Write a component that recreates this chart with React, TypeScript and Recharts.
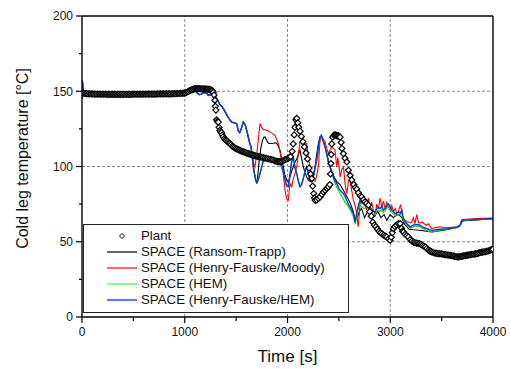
import { ComposedChart, Legend, Line, ReferenceLine, Scatter, XAxis, YAxis } from "recharts";

type Pt = [number, number];

// measured plant data (diamonds), time [s] / temperature [°C]
const plant: Pt[] = [
  [0, 148.8], [15, 148.7], [30, 148.5], [45, 148.4], [60, 148.3], [75, 148.3], [90, 148.2], [105, 148.2],
  [120, 148.1], [135, 148.1], [150, 148.1], [165, 148.0], [180, 148.0], [195, 148.0], [210, 148.0], [225, 148.0],
  [240, 147.9], [255, 147.9], [270, 147.9], [285, 147.9], [300, 147.9], [315, 147.9], [330, 147.9], [345, 147.9],
  [360, 147.9], [375, 147.9], [390, 147.9], [405, 147.9], [420, 147.9], [435, 147.9], [450, 147.9], [465, 147.9],
  [480, 147.9], [495, 148.0], [510, 148.0], [525, 148.0], [540, 148.0], [555, 148.0], [570, 148.0], [585, 148.0],
  [600, 148.0], [615, 148.0], [630, 148.0], [645, 148.1], [660, 148.1], [675, 148.1], [690, 148.1], [705, 148.1],
  [720, 148.1], [735, 148.2], [750, 148.2], [765, 148.2], [780, 148.2], [795, 148.2], [810, 148.3], [825, 148.3],
  [840, 148.3], [855, 148.3], [870, 148.3], [885, 148.4], [900, 148.4], [915, 148.4], [930, 148.5], [945, 148.5],
  [960, 148.6], [975, 148.6], [990, 148.7], [1000, 148.8], [1012, 149.1], [1024, 149.5], [1036, 149.9],
  [1048, 150.4], [1060, 150.8], [1072, 151.1], [1084, 151.4], [1096, 151.6], [1108, 151.7], [1120, 151.7],
  [1132, 151.7], [1144, 151.7], [1156, 151.6], [1168, 151.6], [1180, 151.6], [1192, 151.5], [1204, 151.5],
  [1216, 151.4], [1228, 151.3], [1240, 151.2], [1252, 151.0], [1262, 150.7], [1270, 150.2], [1277, 149.3],
  [1285, 147.5], [1293, 144], [1298, 140], [1303, 137.5], [1310, 131], [1318, 130], [1326, 129.5], [1334, 126],
  [1342, 124], [1350, 123], [1358, 122.5], [1366, 121], [1374, 119.7], [1385, 118.5], [1396, 117.8],
  [1407, 117.2], [1418, 116.5], [1429, 115.8], [1440, 115.3], [1451, 114.5], [1462, 113.6], [1472, 113],
  [1484, 112.5], [1496, 112], [1508, 111.7], [1520, 111.2], [1532, 110.9], [1544, 110.5], [1556, 110.1],
  [1568, 109.8], [1580, 109.5], [1592, 109.2], [1604, 108.9], [1618, 108.6], [1630, 108.3], [1642, 108],
  [1654, 107.7], [1666, 107.5], [1678, 107.2], [1690, 107], [1702, 106.8], [1715, 106.6], [1728, 106.4],
  [1740, 106.3], [1752, 106], [1765, 105.8], [1780, 105.5], [1797, 105.3], [1812, 105], [1830, 104.8],
  [1846, 104.5], [1862, 104.2], [1876, 103.8], [1890, 103.5], [1900, 103.3], [1911, 103.2], [1923, 103.2],
  [1935, 103.3], [1948, 103.6], [1960, 104], [1972, 104.4], [1985, 104.8], [1997, 105.1], [2010, 105.5],
  [2020, 106], [2030, 106.5], [2045, 110], [2055, 115], [2065, 121], [2073, 126], [2082, 131], [2090, 132],
  [2100, 129], [2110, 126], [2122, 123.5], [2135, 120], [2150, 116.5], [2165, 113], [2180, 109], [2195, 105],
  [2210, 99], [2225, 95], [2236, 92], [2245, 87], [2255, 82], [2262, 79], [2270, 77.5], [2285, 77.8],
  [2300, 78.8], [2317, 79.8], [2335, 81.5], [2350, 83], [2366, 84.2], [2382, 85.4], [2398, 86.5], [2412, 88],
  [2418, 95], [2422, 102], [2426, 108], [2431, 115], [2440, 119.5], [2452, 120.8], [2463, 121], [2472, 120.8],
  [2480, 120.5], [2488, 120.4], [2496, 120.3], [2504, 120], [2512, 119.5], [2522, 116], [2530, 112],
  [2544, 108.6], [2560, 105.5], [2577, 103], [2593, 97.5], [2610, 94], [2626, 91], [2645, 88], [2660, 86],
  [2674, 85], [2690, 82.5], [2708, 80.5], [2723, 79.8], [2740, 78], [2755, 76.5], [2770, 75.5], [2788, 74.3],
  [2800, 70], [2815, 67], [2830, 63], [2845, 61], [2860, 60], [2875, 58.5], [2890, 57], [2905, 56], [2920, 55.2],
  [2935, 54.4], [2950, 53.8], [2966, 53.2], [2982, 52], [2999, 51], [3010, 53], [3020, 56], [3031, 58.7],
  [3045, 60], [3060, 61], [3080, 62], [3097, 62], [3110, 59], [3120, 57], [3129, 56.5], [3145, 55], [3160, 54],
  [3177, 53.2], [3195, 51.5], [3210, 50.5], [3226, 49.8], [3240, 49.4], [3255, 49.1], [3270, 48.9],
  [3285, 48.8], [3300, 48.3], [3313, 47.6], [3325, 47], [3340, 46.5], [3355, 45.5], [3370, 44.5], [3385, 44],
  [3395, 43.6], [3405, 43.2], [3420, 42.8], [3435, 42.5], [3450, 42.3], [3465, 42.1], [3480, 42.1], [3495, 42],
  [3510, 41.8], [3525, 41.5], [3540, 41.4], [3555, 41.2], [3570, 41.1], [3584, 41], [3598, 40.7], [3612, 40.5],
  [3626, 40.3], [3640, 40.1], [3652, 39.9], [3665, 40], [3678, 40.1], [3690, 40.2], [3702, 40.4], [3715, 40.6],
  [3728, 40.8], [3740, 40.9], [3752, 41.1], [3765, 41.2], [3778, 41.4], [3792, 41.6], [3805, 41.7],
  [3818, 41.8], [3832, 42], [3845, 42.1], [3858, 42.4], [3871, 42.8], [3885, 43], [3898, 43.1], [3912, 43.3],
  [3925, 43.4], [3940, 43.6], [3953, 43.9], [3966, 44.2], [3978, 44.5], [3990, 44.8], [4000, 45],
];

// all four SPACE runs overlap up to ~1650 s
const spaceStart: Pt[] = [
  [0, 145], [4, 157], [10, 152], [20, 149], [40, 147.8], [80, 147.3], [200, 147.2], [400, 147.2], [600, 147.3],
  [800, 147.4], [950, 147.6], [1000, 148], [1030, 148.8], [1060, 149.8], [1085, 150.8], [1100, 150.6],
  [1120, 149], [1140, 147.8], [1160, 148], [1180, 149], [1200, 149.2], [1215, 148.5], [1230, 147.3],
  [1250, 147.8], [1270, 149.5], [1285, 149.3], [1300, 146.5], [1320, 144], [1340, 141.5], [1360, 140],
  [1380, 138], [1400, 135.5], [1420, 133], [1440, 131], [1456, 129.5], [1480, 129], [1505, 128.5], [1520, 124],
  [1535, 122.5], [1550, 125], [1570, 129.5], [1590, 127.5], [1610, 122], [1630, 116], [1645, 113],
];

const ransomTrapp: Pt[] = [
  [1660, 106], [1675, 97], [1690, 91], [1700, 88.7], [1712, 95], [1725, 104], [1740, 112], [1755, 117],
  [1770, 119.5], [1781, 119.7], [1800, 117], [1815, 115.5], [1829, 115.3], [1860, 115.5], [1880, 115.8],
  [1895, 115.3], [1911, 113.5], [1927, 110.8], [1943, 105], [1959, 99.7], [1976, 94], [1992, 91], [2008, 89.5],
  [2024, 93], [2041, 97], [2057, 100], [2073, 103], [2090, 105], [2106, 108], [2122, 110.8], [2138, 105],
  [2154, 100], [2170, 96], [2187, 93], [2203, 91], [2219, 90], [2236, 89.8], [2251, 93], [2268, 99.7],
  [2284, 108], [2300, 115], [2317, 119.7], [2333, 120], [2350, 117], [2366, 113], [2382, 108], [2398, 104],
  [2414, 100], [2430, 97], [2447, 94], [2463, 92], [2480, 90], [2496, 89], [2512, 88], [2528, 86], [2545, 84],
  [2561, 82], [2577, 80], [2593, 78], [2609, 76], [2625, 73], [2641, 70], [2650, 67], [2660, 64.3], [2675, 66],
  [2690, 68], [2706, 71], [2720, 72], [2735, 69], [2750, 66], [2765, 68], [2780, 70], [2795, 69], [2810, 68],
  [2830, 67.5], [2850, 67], [2865, 69], [2880, 70], [2895, 68], [2910, 66], [2925, 67], [2940, 68], [2955, 66],
  [2966, 64.3], [2982, 66], [2999, 68], [3015, 67], [3031, 66], [3048, 67], [3064, 68], [3080, 68], [3097, 67],
  [3113, 66], [3130, 63], [3146, 61], [3162, 60], [3180, 58.5], [3200, 58.2], [3226, 58], [3260, 57.8],
  [3300, 57.5], [3350, 57], [3405, 56.5], [3454, 57], [3500, 57.5], [3551, 58], [3600, 58.8], [3649, 59.5],
  [3670, 60], [3690, 62], [3700, 63.6], [3714, 64], [3800, 64.3], [3900, 64.8], [4000, 65.1],
];

const henryMoody: Pt[] = [
  [1660, 107], [1675, 101], [1683, 99.7], [1700, 108], [1716, 117.5], [1732, 128.6], [1748, 126],
  [1765, 124.5], [1781, 124.3], [1800, 124], [1829, 123], [1850, 122], [1878, 120.8], [1895, 118],
  [1911, 115.3], [1927, 110], [1943, 104.2], [1959, 95], [1976, 84.2], [1992, 78.5], [2008, 77.6], [2024, 88.7],
  [2041, 86.5], [2057, 92], [2073, 95.3], [2090, 99.7], [2106, 109], [2122, 116.4], [2138, 115], [2154, 114.2],
  [2170, 115], [2187, 115.3], [2203, 106], [2219, 99.7], [2236, 94], [2251, 91], [2268, 90], [2284, 94],
  [2300, 99.7], [2310, 110], [2317, 117.5], [2333, 119.7], [2350, 118], [2366, 116.4], [2382, 112],
  [2398, 108.6], [2414, 111], [2431, 113], [2447, 112], [2463, 110.8], [2479, 99.7], [2490, 106], [2500, 101],
  [2512, 93], [2528, 98], [2545, 99.7], [2561, 88], [2577, 82], [2593, 90], [2609, 91], [2625, 84], [2641, 77.6],
  [2658, 74], [2674, 68.7], [2684, 62], [2690, 60], [2698, 68], [2706, 75.3], [2722, 77], [2739, 77.6],
  [2755, 74], [2771, 71], [2788, 79], [2804, 73.1], [2820, 76], [2836, 71], [2853, 68], [2869, 75], [2885, 72],
  [2901, 79], [2918, 73], [2934, 77], [2950, 72], [2966, 76], [2982, 73], [2999, 71], [3015, 74], [3031, 70],
  [3048, 72], [3064, 69], [3080, 69.8], [3090, 73], [3101, 74.3], [3113, 69], [3122, 66], [3138, 64.5],
  [3162, 63.5], [3178, 63], [3194, 62.5], [3210, 63.1], [3226, 66], [3240, 62], [3258, 68], [3275, 62.5],
  [3291, 62.5], [3310, 63], [3330, 62], [3350, 61], [3370, 62], [3390, 60], [3405, 58.7], [3430, 59.3],
  [3454, 59.6], [3480, 60], [3520, 59.6], [3560, 59.3], [3600, 59.6], [3649, 60], [3681, 61.2], [3692, 64],
  [3700, 64.8], [3720, 65], [3800, 65.2], [3900, 65.5], [4000, 65.8],
];

const hem: Pt[] = [
  [1670, 98], [1690, 91], [1710, 90], [1735, 96], [1765, 104], [1800, 105], [1860, 104.5], [1920, 103],
  [1960, 96], [1992, 87], [2008, 86.5], [2040, 103], [2057, 106], [2090, 95], [2122, 86.5], [2154, 92],
  [2187, 99.7], [2219, 91], [2251, 93], [2284, 104], [2317, 119.5], [2330, 120.5], [2366, 113], [2398, 103],
  [2430, 96], [2447, 92], [2463, 89], [2480, 86], [2496, 84], [2512, 82], [2528, 80], [2545, 78], [2561, 76],
  [2577, 75], [2593, 73], [2609, 71.5], [2625, 69], [2641, 67], [2650, 64], [2658, 61.5], [2668, 65], [2680, 69],
  [2693, 73], [2706, 75], [2720, 73], [2739, 72.5], [2755, 72], [2771, 73], [2788, 72], [2804, 71], [2820, 69.5],
  [2836, 68.5], [2853, 68], [2869, 70], [2885, 71], [2901, 70], [2918, 71.5], [2934, 69.5], [2950, 70.5],
  [2966, 72.5], [2982, 73.5], [2999, 71], [3015, 69.5], [3031, 68.5], [3048, 67], [3064, 67.5], [3080, 68.5],
  [3097, 68], [3113, 70], [3122, 66], [3130, 64], [3146, 62.5], [3162, 61], [3178, 60], [3194, 59], [3210, 59.5],
  [3226, 60], [3245, 60.5], [3265, 60.3], [3291, 60], [3310, 59], [3330, 58.3], [3356, 57.5], [3380, 56.8],
  [3405, 56.5], [3430, 56.8], [3454, 57.2], [3480, 57.6], [3510, 58], [3551, 58.3], [3600, 58.8], [3649, 59.4],
  [3681, 60.6], [3692, 63.2], [3700, 64], [3714, 64.1], [3800, 64.4], [3900, 64.8], [4000, 65.2],
];

const henryHem: Pt[] = [
  [1670, 98], [1690, 91], [1705, 89.5], [1720, 92], [1735, 96], [1750, 100], [1765, 104], [1781, 105.3],
  [1800, 105], [1829, 105.3], [1860, 104.5], [1895, 104.2], [1920, 103], [1943, 101], [1960, 96], [1976, 91],
  [1992, 87], [2008, 86.5], [2024, 95], [2040, 103], [2057, 106.4], [2073, 99], [2090, 95.3], [2106, 90],
  [2122, 86.5], [2138, 88], [2154, 92], [2170, 97], [2187, 99.7], [2203, 95], [2219, 91], [2236, 92], [2251, 93],
  [2268, 99], [2284, 104.2], [2300, 112], [2317, 119.7], [2330, 120.8], [2345, 117], [2366, 113], [2382, 108.6],
  [2398, 103], [2414, 99.7], [2430, 96], [2447, 93], [2463, 90.5], [2480, 88.7], [2496, 86], [2512, 84.2],
  [2528, 83], [2545, 82], [2561, 80], [2577, 77.6], [2593, 75], [2609, 73.1], [2625, 71], [2641, 68.7],
  [2650, 66], [2658, 63.1], [2668, 67], [2680, 71], [2693, 75], [2706, 77.6], [2720, 76], [2739, 75.3],
  [2755, 74], [2771, 75], [2788, 74], [2804, 73.1], [2820, 71.5], [2836, 70.5], [2853, 69.8], [2869, 72],
  [2885, 73], [2901, 72], [2918, 73.5], [2934, 71], [2950, 72], [2966, 74], [2982, 75.3], [2999, 73], [3015, 71],
  [3031, 70], [3048, 68.7], [3064, 69], [3080, 70], [3097, 69], [3113, 71], [3122, 67], [3130, 65.4],
  [3146, 63.5], [3162, 62], [3178, 61], [3194, 59.8], [3210, 60.5], [3226, 61], [3245, 61.5], [3265, 61.3],
  [3291, 61], [3310, 60], [3330, 59.3], [3356, 58.7], [3380, 58], [3405, 57.6], [3430, 57.8], [3454, 58.1],
  [3480, 58.3], [3510, 58.5], [3551, 58.7], [3580, 59], [3620, 59.4], [3649, 59.8], [3670, 60.3], [3681, 61],
  [3692, 63.5], [3700, 64.2], [3714, 64.3], [3750, 64.4], [3800, 64.6], [3850, 64.8], [3900, 65], [3950, 65.3],
  [4000, 65.5],
];

const timeTicks = [0, 500, 1000, 1500, 2000, 2500, 3000, 3500, 4000];
const timeLabels = [0, 1000, 2000, 3000, 4000];
const tempTicks = [0, 25, 50, 75, 100, 125, 150, 175, 200];
const tempLabels = [0, 50, 100, 150, 200];
const gridTimes = [1000, 2000, 3000];
const gridTemps = [50, 100, 150];

const FONT = "'Liberation Sans', Arial, sans-serif";

const rows = (pts: Pt[]) => pts.map(([t, v]) => ({ t, v }));

const series = [
  { name: "SPACE (Ransom-Trapp)", color: "#000000", legendColor: "#000000", width: 1.1, data: [...spaceStart, ...ransomTrapp] },
  { name: "SPACE (Henry-Fauske/Moody)", color: "#ff0000", legendColor: "#ff0000", width: 1.1, data: [...spaceStart, ...henryMoody] },
  { name: "SPACE (HEM)", color: "#00e000", legendColor: "#33ff33", width: 1.1, data: [...spaceStart, ...hem] },
  { name: "SPACE (Henry-Fauske/HEM)", color: "#0a3ad8", legendColor: "#6f6fff", width: 1.4, data: [...spaceStart, ...henryHem] },
];

function Diamond(props: any) {
  const { cx, cy } = props;
  const r = 3;
  return (
    <path
      d={`M${cx},${cy - r}L${cx + r},${cy}L${cx},${cy + r}L${cx - r},${cy}Z`}
      fill="#fff"
      stroke="#000"
      strokeWidth={1.2}
    />
  );
}

function BottomTick(props: any) {
  const { x, y, payload } = props;
  const major = timeLabels.includes(payload.value);
  return (
    <g>
      <line x1={x} y1={y} x2={x} y2={y + (major ? 6 : 4)} stroke="#000" strokeWidth={1.2} />
      {major && (
        <text x={x} y={y + 19} textAnchor="middle" fontSize={12} fill="#111" fontFamily={FONT}>
          {payload.value}
        </text>
      )}
    </g>
  );
}

function TopTick(props: any) {
  const { x, y, payload } = props;
  const major = timeLabels.includes(payload.value);
  return <line x1={x} y1={y} x2={x} y2={y + (major ? 5 : 3)} stroke="#000" strokeWidth={1.2} />;
}

function LeftTick(props: any) {
  const { x, y, payload } = props;
  const major = tempLabels.includes(payload.value);
  return (
    <g>
      <line x1={x} y1={y} x2={x - (major ? 6 : 3)} y2={y} stroke="#000" strokeWidth={1.2} />
      {major && (
        <text x={x - 9} y={y + 4.3} textAnchor="end" fontSize={12} fill="#111" fontFamily={FONT}>
          {payload.value}
        </text>
      )}
    </g>
  );
}

function RightTick(props: any) {
  const { x, y, payload } = props;
  const major = tempLabels.includes(payload.value);
  return <line x1={x} y1={y} x2={x - (major ? 6 : 3)} y2={y} stroke="#000" strokeWidth={1.2} />;
}

function LegendBox() {
  return (
    <div
      style={{
        width: 266,
        height: 89,
        boxSizing: "border-box",
        border: "1.5px solid #222",
        background: "#fff",
        position: "relative",
        fontFamily: FONT,
        fontSize: 13.3,
        color: "#111",
      }}
    >
      <div style={{ position: "absolute", left: 57, top: 3, lineHeight: "16px" }}>Plant</div>
      <svg style={{ position: "absolute", left: 0, top: 0 }} width={60} height={86}>
        <path d="M38,8.5L40.5,11L38,13.5L35.5,11Z" fill="#fff" stroke="#000" strokeWidth={1} />
        {series.map((s, i) => (
          <line
            key={s.name}
            x1={23}
            x2={53}
            y1={27 + i * 16}
            y2={27 + i * 16}
            stroke={s.legendColor}
            strokeWidth={i === 3 ? 2.2 : 1.2}
          />
        ))}
      </svg>
      {series.map((s, i) => (
        <div key={s.name} style={{ position: "absolute", left: 57, top: 19 + i * 16, lineHeight: "16px", whiteSpace: "nowrap" }}>
          {s.name}
        </div>
      ))}
    </div>
  );
}

export default function App() {
  return (
    <div style={{ position: "absolute", left: 0, top: 0, width: 511, height: 369, background: "#fff", fontFamily: FONT }}>
      <ComposedChart width={511} height={369} margin={{ top: 15, right: 17, bottom: 12, left: 22 }}>
        <XAxis
          dataKey="t"
          type="number"
          domain={[0, 4000]}
          ticks={timeTicks}
          interval={0}
          tickSize={0}
          tickMargin={0}
          tickLine={false}
          tick={BottomTick}
          height={40}
          axisLine={{ stroke: "#000", strokeWidth: 1.4 }}
          allowDataOverflow
          label={() => (
            <text x={287.5} y={362} textAnchor="middle" fontSize={17} fill="#111" fontFamily={FONT}>
              Time [s]
            </text>
          )}
        />
        <XAxis
          xAxisId="top"
          orientation="top"
          dataKey="t"
          type="number"
          domain={[0, 4000]}
          ticks={timeTicks}
          interval={0}
          tickSize={0}
          tickMargin={0}
          tickLine={false}
          tick={TopTick}
          height={1}
          axisLine={{ stroke: "#000", strokeWidth: 1.4 }}
        />
        <YAxis
          type="number"
          domain={[0, 200]}
          ticks={tempTicks}
          interval={0}
          tickSize={0}
          tickMargin={0}
          tickLine={false}
          tick={LeftTick}
          width={60}
          axisLine={{ stroke: "#000", strokeWidth: 1.4 }}
          allowDataOverflow
          label={() => (
            <text
              x={22}
              y={158.5}
              transform="rotate(-90 22 158.5)"
              textAnchor="middle"
              dominantBaseline="central"
              fontSize={16}
              fill="#111"
              fontFamily={FONT}
            >
              Cold leg temperature [°C]
            </text>
          )}
        />
        <YAxis
          yAxisId="right"
          orientation="right"
          type="number"
          domain={[0, 200]}
          ticks={tempTicks}
          interval={0}
          tickSize={0}
          tickMargin={0}
          tickLine={false}
          tick={RightTick}
          width={1}
          axisLine={{ stroke: "#000", strokeWidth: 1.4 }}
        />
        {gridTimes.map((t) => (
          <ReferenceLine key={`gx${t}`} x={t} stroke="#8c8c8c" strokeDasharray="3 2" strokeWidth={1} />
        ))}
        {gridTemps.map((v) => (
          <ReferenceLine key={`gy${v}`} y={v} stroke="#8c8c8c" strokeDasharray="3 2" strokeWidth={1} />
        ))}
        <Scatter name="Plant" data={rows(plant)} dataKey="v" shape={Diamond} isAnimationActive={false} />
        {series.map((s) => (
          <Line
            key={s.name}
            name={s.name}
            data={rows(s.data)}
            dataKey="v"
            type="linear"
            stroke={s.color}
            strokeWidth={s.width}
            dot={false}
            activeDot={false}
            isAnimationActive={false}
          />
        ))}
        <Legend
          layout="vertical"
          align="center"
          verticalAlign="middle"
          content={LegendBox}
          wrapperStyle={{ left: 83, top: 224, width: 266, height: 89 }}
        />
      </ComposedChart>
    </div>
  );
}
